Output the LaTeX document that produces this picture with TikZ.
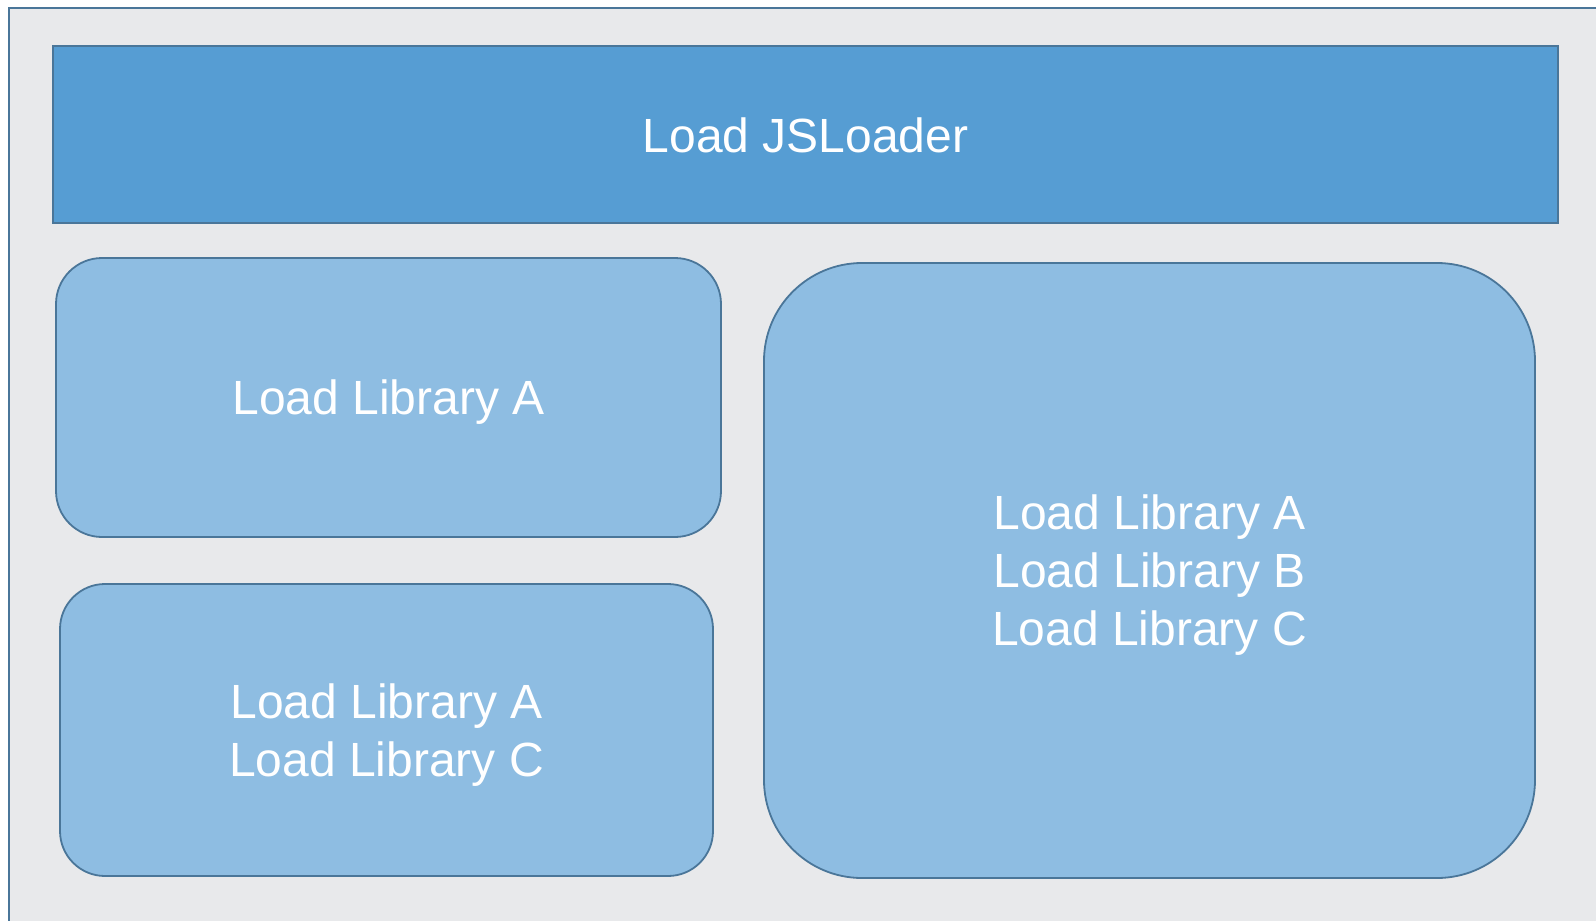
\documentclass[tikz,border=0pt]{standalone}
\usepackage{fontspec}
\setmainfont{Liberation Sans}
\definecolor{bgfill}{HTML}{E8E9EB}
\definecolor{edge}{HTML}{4A7699}
\definecolor{barfill}{HTML}{569DD3}
\definecolor{boxfill}{HTML}{8EBDE2}
\tikzset{
  frame/.style={draw=edge, line width=2pt, fill=bgfill},
  bar/.style={draw=edge, line width=2pt, fill=barfill},
  libbox/.style={draw=edge, line width=1.8pt, fill=boxfill},
  lbl/.style={text=white, font=\fontsize{48}{58}\selectfont, align=center, inner sep=0pt}
}
\begin{document}
\begin{tikzpicture}[x=1pt,y=-1pt]
\useasboundingbox (0,0) rectangle (1596,921);
\fill[white] (0,0) rectangle (1596,921);
\draw[frame] (9,8) rectangle (1610,935);
\draw[bar] (53,46) rectangle (1558,223);
\node[lbl] (jsl) at (805.5,135) {Load JSLoader};
\draw[libbox, rounded corners=46pt] (56,258) rectangle (721,537);
\node[lbl] (la) at (388.5,402) {Load Library A};
\draw[libbox, rounded corners=45pt] (60,584) rectangle (713,876);
\node[lbl] (lac) at (386.5,735) {Load Library A\\Load Library C};
\draw[libbox, rounded corners=98pt] (764,263) rectangle (1535,878);
\node[lbl] (labc) at (1149.5,575) {Load Library A\\Load Library B\\Load Library C};
\end{tikzpicture}
\end{document}
